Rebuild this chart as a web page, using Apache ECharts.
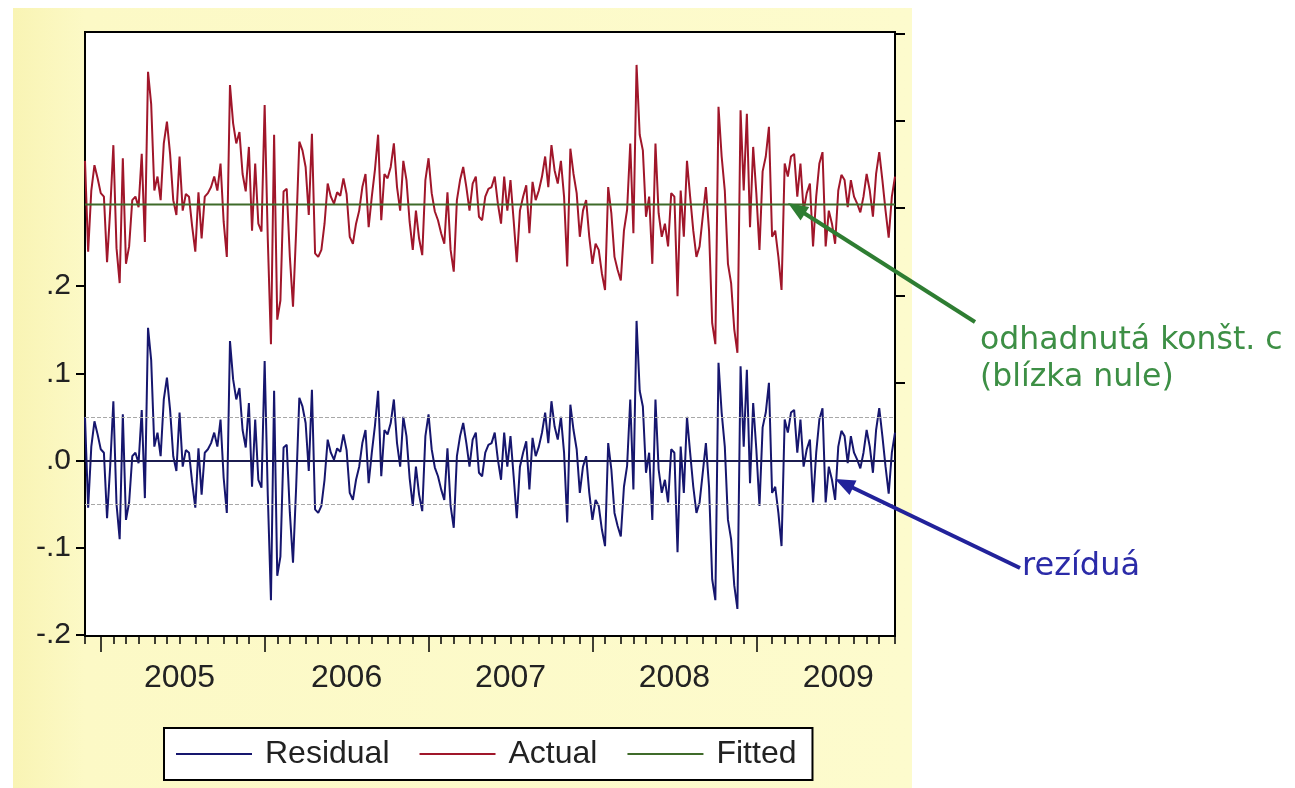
<!DOCTYPE html>
<html>
<head>
<meta charset="utf-8">
<script src="https://cdn.jsdelivr.net/npm/echarts@6/dist/echarts.min.js"></script>
<style>
html,body{margin:0;padding:0;background:#ffffff;}
#chart{width:1295px;height:788px;}
</style>
</head>
<body>
<div id="chart"></div>
<script>
// ---- data (weekly observations, Dec 2004 - Nov 2009) ----
const firstWeek = [2004, 12, 3];          // first observation date (y, m, d)
const seriesNames = ['Residual', 'Actual', 'Fitted'];

const residualSeg1 = [0.05, -0.054, 0.016, 0.045, 0.03, 0.013, 0.009, -0.066, -0.006, 0.068,
  -0.05, -0.09, 0.053, -0.068, -0.048, 0.005, 0.009, -0.003, 0.058, -0.043,
  0.152, 0.115, 0.016, 0.032, 0.005, 0.07, 0.095, 0.058, 0.005, -0.012,
  0.055, -0.007, 0.012, 0.009, -0.025, -0.054, 0.014, -0.039, 0.009, 0.013,
  0.02, 0.032, 0.016, 0.047];
const residualSeg2 = [-0.02, -0.06, 0.137, 0.093, 0.07, 0.083, 0.035, 0.015, 0.066, -0.03,
  0.047, -0.022, -0.031, 0.114, -0.04, -0.16, 0.08, -0.132, -0.11, 0.015,
  0.018, -0.06, -0.117, -0.03, 0.072, 0.062, 0.043, -0.012, 0.081, -0.056,
  -0.06, -0.052, -0.022, 0.024, 0.009, 0.001, 0.014, 0.01, 0.03, 0.012,
  -0.037, -0.045, -0.022, -0.007];
const residualSeg3 = [0.02, 0.035, -0.026, 0.009, 0.04, 0.08, -0.018, 0.035, 0.03, 0.043,
  0.07, 0.02, -0.007, 0.05, 0.028, -0.02, -0.052, -0.007, -0.039, -0.058,
  0.028, 0.053, 0.013, -0.008, -0.018, -0.033, -0.045, 0.014, -0.052, -0.077,
  0.005, 0.028, 0.043, 0.02, -0.007, 0.024, 0.032, -0.014, -0.018, 0.009,
  0.018];
const residualSeg4 = [0.02, 0.032, 0.001, -0.022, 0.032, -0.007, 0.028, -0.018, -0.066, -0.007,
  0.009, 0.022, -0.033, 0.026, 0.005, 0.016, 0.032, 0.055, 0.02, 0.068,
  0.039, 0.024, 0.05, 0.009, -0.071, 0.064, 0.035, 0.013, -0.037, -0.007,
  0.005, -0.037, -0.068, -0.045, -0.052, -0.079, -0.098, 0.02, -0.01, -0.06,
  -0.075, -0.087];
const residualSeg5 = [-0.03, -0.006, 0.07, -0.033, 0.16, 0.08, 0.062, -0.014, 0.009, -0.068,
  0.07, -0.01, -0.037, -0.022, -0.048, 0.013, 0.009, -0.105, 0.016, -0.037,
  0.05, 0.009, -0.03, -0.06, -0.048, -0.014, 0.02, -0.03, -0.136, -0.16,
  0.112, 0.055, 0.016, -0.068, -0.09, -0.143, -0.17, 0.108, 0.016, 0.104,
  -0.026, 0.066];
const residualSeg6 = [0.013, -0.052, 0.038, 0.055, 0.089, -0.037, -0.03, -0.06, -0.098, 0.047,
  0.032, 0.055, 0.058, 0.009, 0.047, -0.007, 0.013, 0.024, -0.048, 0.009,
  0.047, 0.06, -0.048, -0.007, -0.022, -0.045, 0.016, 0.034, 0.028, -0.003,
  0.028, 0.009, 0.001, -0.009, 0.009, 0.035, 0.016, -0.014, 0.035, 0.06,
  0.028, -0.007, -0.038, 0.009, 0.032];

// estimated constant c (fitted value, right axis) and residual std. error band
const fittedLevel = 0.004;
const residualBand = 0.0505;

// axis ticks
const leftTickValues = [-0.2, -0.1, 0, 0.1, 0.2];
const leftTickLabels = ['-.2', '-.1', '.0', '.1', '.2'];
const rightTickValues = [-0.2, -0.1, 0, 0.1, 0.2];

// annotations
const noteConst = ['odhadnutá konšt. c', '(blízka nule)'];
const noteResid = 'rezíduá';

// ---- derived ----
const residual = [].concat(residualSeg1, residualSeg2, residualSeg3, residualSeg4, residualSeg5, residualSeg6);
const fitted = residual.map(() => fittedLevel);
// Actual = Fitted + Residual
const actual = residual.map((r, i) => +(fitted[i] + r).toFixed(4));

const dates = [];
(function () {
  let t = Date.UTC(firstWeek[0], firstWeek[1] - 1, firstWeek[2]);
  for (let i = 0; i < residual.length; i++) {
    dates.push(new Date(t).toISOString().slice(0, 10));
    t += 7 * 86400000;
  }
})();
const monthStart = i => i === 0 || dates[i].slice(5, 7) !== dates[i - 1].slice(5, 7);
const yearStart = i => i > 0 && dates[i].slice(0, 4) !== dates[i - 1].slice(0, 4);
const julyStart = i => monthStart(i) && dates[i].slice(5, 7) === '07';

const FONT = '"Liberation Sans Narrow", "Arial Narrow", "Liberation Sans", Arial, sans-serif';
const resColor = '#16166e';
const actColor = '#a0162a';
const fitColor = '#3f6b2a';

function arrowHead(tip, tail, len, half) {
  const dx = tip[0] - tail[0], dy = tip[1] - tail[1];
  const L = Math.sqrt(dx * dx + dy * dy);
  const ux = dx / L, uy = dy / L;
  const bx = tip[0] - ux * len, by = tip[1] - uy * len;
  return [tip, [bx - uy * half, by + ux * half], [bx + uy * half, by - ux * half]];
}
const gTail = [975, 322], gTip = [788, 203];
const bTail = [1020, 568], bTip = [835, 479];

const chart = echarts.init(document.getElementById('chart'), null, {renderer: 'canvas'});
chart.setOption({
  animation: false,
  backgroundColor: '#ffffff',
  graphic: [
    {type: 'rect', z: -100, silent: true,
     shape: {x: 13, y: 8, width: 899, height: 780},
     style: {fill: new echarts.graphic.LinearGradient(0, 0, 1, 0, [
       {offset: 0, color: '#f9f4b4'}, {offset: 0.08, color: '#fcf9c6'}, {offset: 1, color: '#fdfbcd'}])}},
    {type: 'line', z: 100, shape: {x1: gTail[0], y1: gTail[1], x2: gTip[0] + 8, y2: gTip[1] + 5},
     style: {stroke: '#2e7d32', lineWidth: 4}},
    {type: 'polygon', z: 100, shape: {points: arrowHead(gTip, gTail, 20, 8)}, style: {fill: '#2e7d32'}},
    {type: 'line', z: 100, shape: {x1: bTail[0], y1: bTail[1], x2: bTip[0] + 8, y2: bTip[1] + 4},
     style: {stroke: '#22229a', lineWidth: 4}},
    {type: 'polygon', z: 100, shape: {points: arrowHead(bTip, bTail, 20, 8)}, style: {fill: '#22229a'}},
    {type: 'text', z: 100, x: 980, y: 341,
     style: {text: noteConst[0], fill: '#3d8f45', font: '31.5px "DejaVu Sans", sans-serif', verticalAlign: 'middle'}},
    {type: 'text', z: 100, x: 980, y: 378,
     style: {text: noteConst[1], fill: '#3d8f45', font: '31.5px "DejaVu Sans", sans-serif', verticalAlign: 'middle'}},
    {type: 'text', z: 100, x: 1022, y: 567,
     style: {text: noteResid, fill: '#2b2ba8', font: '32px "DejaVu Sans", sans-serif', verticalAlign: 'middle'}}
  ],
  grid: {left: 85, right: 400, top: 32, bottom: 152, show: true,
         backgroundColor: '#ffffff', borderColor: '#000000', borderWidth: 2},
  legend: {
    data: seriesNames, left: 164, top: 728,
    padding: [10, 16, 10, 12], itemGap: 30, itemWidth: 76, itemHeight: 2, icon: 'rect',
    borderColor: '#000', borderWidth: 2, backgroundColor: '#ffffff',
    textStyle: {fontSize: 32, fontFamily: FONT, color: '#222', padding: [0, 0, 0, 8]}
  },
  xAxis: [
    {type: 'category', data: dates, boundaryGap: false, position: 'bottom',
     axisLine: {show: true, onZero: false, lineStyle: {color: '#000', width: 2}},
     axisTick: {show: true, interval: i => monthStart(i), length: 8, lineStyle: {color: '#000', width: 1.5}},
     axisLabel: {interval: i => julyStart(i), formatter: v => v.slice(0, 4),
                 fontSize: 32, fontFamily: FONT, color: '#222', margin: 26},
     splitLine: {show: false}},
    {type: 'category', data: dates, boundaryGap: false, position: 'bottom',
     axisLine: {show: false, onZero: false},
     axisTick: {show: true, interval: i => yearStart(i), length: 16, lineStyle: {color: '#000', width: 1.5}},
     axisLabel: {show: false}, splitLine: {show: false}}
  ],
  yAxis: [
    {type: 'value', position: 'left', min: -0.201, max: 0.491, splitLine: {show: false},
     axisLine: {show: true, onZero: false, lineStyle: {color: '#000', width: 2}},
     axisTick: {show: true, length: 9, customValues: leftTickValues, lineStyle: {color: '#000', width: 2}},
     axisLabel: {customValues: leftTickValues, fontSize: 30, fontFamily: FONT, color: '#222', margin: 14,
                 formatter: v => {
                   const k = leftTickValues.findIndex(t => Math.abs(t - v) < 1e-6);
                   return k >= 0 ? leftTickLabels[k] : '';
                 }}},
    {type: 'value', position: 'right', min: -0.4905, max: 0.2017, splitLine: {show: false},
     axisLine: {show: true, onZero: false, lineStyle: {color: '#000', width: 2}},
     axisTick: {show: true, length: 10, customValues: rightTickValues, lineStyle: {color: '#000', width: 2}},
     axisLabel: {show: false, customValues: rightTickValues}}
  ],
  series: [
    {name: seriesNames[0], type: 'line', xAxisIndex: 0, yAxisIndex: 0, data: residual,
     showSymbol: false, color: resColor, lineStyle: {color: resColor, width: 2}, z: 3,
     markLine: {silent: true, symbol: 'none', label: {show: false}, animation: false,
       data: [
         {yAxis: 0, lineStyle: {color: '#1c1c50', width: 2, type: 'solid'}},
         {yAxis: residualBand, lineStyle: {color: '#a8a8a8', width: 1, type: 'dashed'}},
         {yAxis: -residualBand, lineStyle: {color: '#a8a8a8', width: 1, type: 'dashed'}}
       ]}},
    {name: seriesNames[1], type: 'line', xAxisIndex: 0, yAxisIndex: 1, data: actual,
     showSymbol: false, color: actColor, lineStyle: {color: actColor, width: 2}, z: 2},
    {name: seriesNames[2], type: 'line', xAxisIndex: 0, yAxisIndex: 1, data: fitted,
     showSymbol: false, color: fitColor, lineStyle: {color: fitColor, width: 2}, z: 4}
  ]
});
</script>
</body>
</html>
